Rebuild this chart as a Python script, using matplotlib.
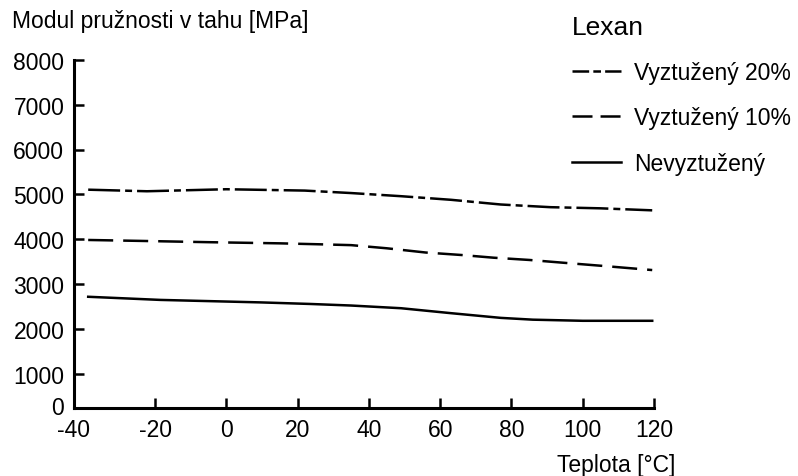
import numpy as np
import matplotlib
matplotlib.use("Agg")
import matplotlib.pyplot as plt
from matplotlib.lines import Line2D
from matplotlib.transforms import ScaledTranslation

plt.rcParams['font.family'] = ['Liberation Sans', 'DejaVu Sans']
plt.rcParams['lines.scale_dashes'] = False

# ---- data ----
temp_20 = [-36.5, -22, 0, 22, 35, 49, 63, 77, 91, 105, 119.5]
mod_20 = [5105, 5070, 5115, 5085, 5030, 4960, 4880, 4775, 4715, 4690, 4645]

temp_10 = [-36.5, -24, -4.5, 15, 25.5, 35, 45, 56, 66, 75, 85, 95, 106, 119.5]
mod_10 = [3985, 3965, 3935, 3910, 3890, 3870, 3800, 3705, 3650, 3590, 3540, 3475, 3405, 3315]

temp_0 = [-36.5, -18.5, 9.5, 23.5, 35, 49, 63, 77, 86, 100, 119.5]
mod_0 = [2720, 2650, 2595, 2560, 2525, 2465, 2355, 2250, 2210, 2185, 2185]

x_ticks = [-40, -20, 0, 20, 40, 60, 80, 100, 120]
y_ticks = [0, 1000, 2000, 3000, 4000, 5000, 6000, 7000, 8000]
labels = ["Vyztužený 20%", "Vyztužený 10%", "Nevyztužený"]
legend_title = "Lexan"
y_title = "Modul pružnosti v tahu [MPa]"
x_title = "Teplota [°C]"

# ---- piecewise axis scales (the printed axes are not uniform at the ends) ----
def fwd_x(t):
    t = np.asarray(t, dtype=float)
    return np.where(t < -20, (t + 20) * 81 / 20, (t + 20) * 71.2 / 20)

def inv_x(u):
    u = np.asarray(u, dtype=float)
    return np.where(u < 0, u * 20 / 81 - 20, u * 20 / 71.2 - 20)

def fwd_y(v):
    v = np.asarray(v, dtype=float)
    return np.where(v < 1000, (v - 1000) * 34 / 1000, (v - 1000) * 44.9 / 1000)

def inv_y(u):
    u = np.asarray(u, dtype=float)
    return np.where(u < 0, u * 1000 / 34 + 1000, u * 1000 / 44.9 + 1000)

W, H = 798, 477
fig = plt.figure(figsize=(W / 100, H / 100), dpi=100)
left, right, bottom, top = 74, 654, 409, 60.7
ax = fig.add_axes([left / W, 1 - bottom / H, (right - left) / W, (bottom - top) / H])
ax.set_xscale('function', functions=(fwd_x, inv_x))
ax.set_yscale('function', functions=(fwd_y, inv_y))

lw = 1.8
ax.plot(temp_20, mod_20, color='black', lw=lw, linestyle=(0, (23, 3.6, 5, 3.6)))
ax.plot(temp_10, mod_10, color='black', lw=lw, linestyle=(0, (18, 7.2)))
ax.plot(temp_0, mod_0, color='black', lw=lw, linestyle='-')

ax.set_xlim(-40, 120)
ax.set_ylim(0, 8000)
ax.set_xticks(x_ticks)
ax.set_yticks(y_ticks)
ax.xaxis.set_minor_locator(matplotlib.ticker.NullLocator())
ax.yaxis.set_minor_locator(matplotlib.ticker.NullLocator())
ax.set_xticklabels([str(v) for v in x_ticks])
ax.set_yticklabels([str(v) for v in y_ticks])

for s in ['top', 'right']:
    ax.spines[s].set_visible(False)
for s in ['left', 'bottom']:
    ax.spines[s].set_linewidth(2.2)
    ax.spines[s].set_capstyle('projecting')

fs = 16.5
ax.tick_params(axis='both', direction='in', length=7, width=1.8, labelsize=fs, colors='black')
ax.tick_params(axis='y', pad=7)
ax.tick_params(axis='x', pad=7)
ax.patch.set_visible(False)

# the "0" label sits slightly above the baseline in the reference
zero_lbl = ax.yaxis.get_major_ticks()[0].label1
zero_lbl.set_transform(zero_lbl.get_transform() + ScaledTranslation(0, 3 / 100, fig.dpi_scale_trans))

fig.text(12 / W, 1 - 28 / H, y_title, fontsize=fs, ha='left', va='baseline')
fig.text(675 / W, 1 - 472 / H, x_title, fontsize=fs, ha='right', va='baseline')

handles = [
    Line2D([], [], color='black', lw=lw, linestyle=(0, (12, 3, 5.5, 3))),
    Line2D([], [], color='black', lw=lw, linestyle=(0, (14.4, 5.8))),
    Line2D([], [], color='black', lw=lw, linestyle='-'),
]
leg = ax.legend(handles, labels, title=legend_title, frameon=False,
                loc='upper left', bbox_to_anchor=(572 / W, 1 - 16 / H),
                bbox_transform=fig.transFigure, fontsize=fs, title_fontsize=19,
                handlelength=2.15, handletextpad=0.55, labelspacing=0.97,
                borderpad=0, borderaxespad=0, alignment='left')

fig.savefig("out.png", dpi=100)
